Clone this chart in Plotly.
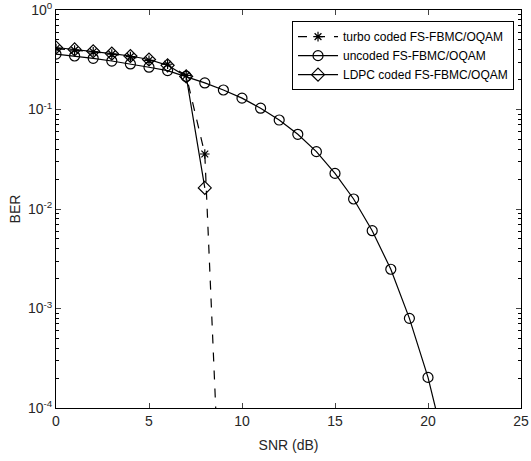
import plotly.graph_objects as go

snr_turbo = [0, 1, 2, 3, 4, 5, 6, 7, 8, 9]
ber_turbo = [0.41, 0.395, 0.38, 0.36, 0.34, 0.312, 0.285, 0.22, 0.0357, 1.6e-6]

snr_uncoded = list(range(0, 22))
ber_uncoded = [0.36, 0.345, 0.327, 0.307, 0.287, 0.266, 0.246, 0.215, 0.185, 0.157,
               0.130, 0.103, 0.0784, 0.0563, 0.0377, 0.0228, 0.0126, 0.00605, 0.00248,
               7.96e-4, 2.03e-4, 3.5e-5]

snr_ldpc = [0, 1, 2, 3, 4, 5, 6, 7, 8]
ber_ldpc = [0.42, 0.402, 0.385, 0.365, 0.345, 0.318, 0.278, 0.215, 0.0163]

y_tickvals = [1, 0.1, 0.01, 0.001, 0.0001]
y_ticktext = ["10<sup>0</sup>", "10<sup>-1</sup>", "10<sup>-2</sup>", "10<sup>-3</sup>", "10<sup>-4</sup>"]
y_minor_vals = [m * 10.0 ** e for e in range(-4, 0) for m in range(2, 10)]
x_tickvals = [0, 5, 10, 15, 20, 25]

font = dict(family="Liberation Sans, Arial, sans-serif", size=14, color="#262626")

fig = go.Figure()
fig.add_trace(go.Scatter(
    x=snr_turbo, y=ber_turbo, mode="lines+markers",
    name="turbo coded FS-FBMC/OQAM",
    line=dict(color="black", width=1.2, dash="dash"),
    marker=dict(symbol="asterisk-open", size=8, color="black", line=dict(width=1.2, color="black")),
))
fig.add_trace(go.Scatter(
    x=snr_uncoded, y=ber_uncoded, mode="lines+markers",
    name="uncoded FS-FBMC/OQAM",
    line=dict(color="black", width=1.2),
    marker=dict(symbol="circle-open", size=10, color="black", line=dict(width=1.2, color="black")),
))
fig.add_trace(go.Scatter(
    x=snr_ldpc, y=ber_ldpc, mode="lines+markers",
    name="LDPC coded FS-FBMC/OQAM",
    line=dict(color="black", width=1.2),
    marker=dict(symbol="diamond-open", size=10, color="black", line=dict(width=1.2, color="black")),
))

fig.update_layout(
    width=531, height=461,
    margin=dict(l=56, r=10, t=10, b=53),
    paper_bgcolor="white", plot_bgcolor="white",
    font=font,
    showlegend=True,
    legend=dict(
        x=0.985, y=0.972, xanchor="right", yanchor="top",
        bordercolor="black", borderwidth=1, bgcolor="white",
        font=dict(family="Liberation Sans, Arial, sans-serif", size=12, color="black"),
        tracegroupgap=0, itemwidth=40,
    ),
)
fig.update_xaxes(
    range=[0, 25], tickvals=x_tickvals, ticks="inside", ticklen=5,
    showline=True, linecolor="black", linewidth=1, mirror="ticks",
    showgrid=False, zeroline=False, automargin=False,
    title=dict(text="SNR (dB)", standoff=12, font=font),
)
fig.update_yaxes(
    type="log", range=[-4, 0], tickvals=y_tickvals, ticktext=y_ticktext,
    ticks="inside", ticklen=5,
    minor=dict(tickvals=y_minor_vals, ticks="inside", ticklen=3, showgrid=False, tickcolor="black"),
    showline=True, linecolor="black", linewidth=1, mirror="ticks",
    showgrid=False, zeroline=False, automargin=False,
    title=dict(text="BER", standoff=4, font=font),
)
fig.write_html("out.html")
